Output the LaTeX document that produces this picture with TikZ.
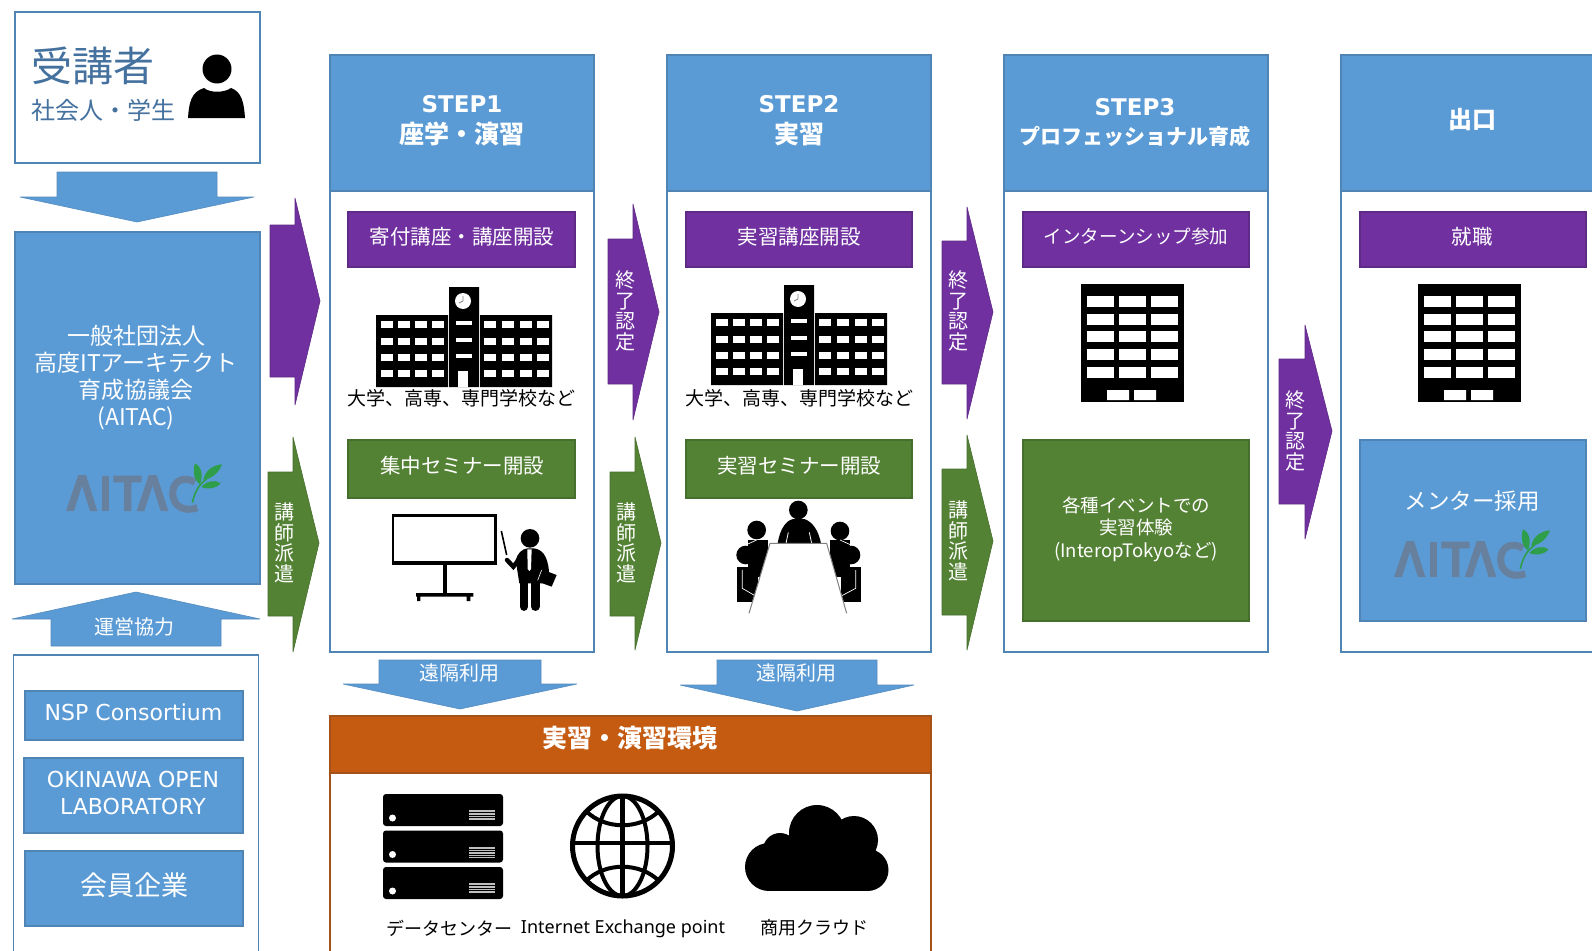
\documentclass[tikz,border=0pt]{standalone}
\usepackage{fontspec}
\setmainfont{Noto Sans CJK JP}
\newfontfamily\dvfont{DejaVu Sans}
\newfontfamily\nsfont{Noto Sans}
\definecolor{cblue}{HTML}{5B9BD5}
\definecolor{cblueedge}{HTML}{4F84B5}
\definecolor{cpurple}{HTML}{7030A0}
\definecolor{cpurpleedge}{HTML}{5E2A86}
\definecolor{cgreen}{HTML}{548235}
\definecolor{cgreenedge}{HTML}{466E2D}
\definecolor{corange}{HTML}{C55A11}
\definecolor{corangeedge}{HTML}{A5511A}
\definecolor{ctitle}{HTML}{44719E}
\definecolor{clogo}{HTML}{66809E}
\definecolor{cleaf}{HTML}{2E9E4A}
\newcommand\fs[2]{\fontsize{#1}{#2}\selectfont}
\tikzset{
  bluebox/.style={draw=cblueedge,fill=cblue,line width=1.3pt,inner sep=0pt},
  whitebox/.style={draw=cblueedge,fill=white,line width=1.3pt,inner sep=0pt},
  purplebox/.style={draw=cpurpleedge,fill=cpurple,line width=1.3pt,inner sep=0pt},
  greenbox/.style={draw=cgreenedge,fill=cgreen,line width=1.3pt,inner sep=0pt},
  orangebox/.style={draw=corangeedge,fill=corange,line width=1.3pt,inner sep=0pt},
  orangeframe/.style={draw=corangeedge,fill=white,line width=1.3pt,inner sep=0pt},
  wt/.style={text=white,inner sep=0pt,align=center},
  bt/.style={text=black,inner sep=0pt,align=center},
  bluearrow/.style={draw=cblueedge!70!cblue,fill=cblue,line width=.6pt,line join=bevel},
  purplearrow/.style={draw=cpurpleedge,fill=cpurple,line width=.6pt,line join=bevel},
  greenarrow/.style={draw=cgreenedge,fill=cgreen,line width=.6pt,line join=bevel},
}
% box node from corner coordinates
\newcommand\bx[6]{%
  \pgfmathsetmacro\bxw{#5-#3}\pgfmathsetmacro\bxh{#6-#4}%
  \pgfmathsetmacro\bxx{(#3+#5)/2}\pgfmathsetmacro\bxy{(#4+#6)/2}%
  \node[#2,minimum width=\bxw pt,minimum height=\bxh pt] (#1) at (\bxx,\bxy) {};}
% right block arrow: style, x0, xhead, yHeadTop, yShaftTop, yShaftBot, yHeadBot, xtip, ytip
\newcommand\rarr[9]{%
  \draw[#1] (#2,#5) -- (#3,#5) -- (#3,#4) -- (#8,#9) -- (#3,#7) -- (#3,#6) -- (#2,#6) -- cycle;}
% vertical block arrows: style, xs1, xs2, xh1, xh2, yshaft-start, yhead, xtip, ytip
\newcommand\varr[9]{%
  \draw[#1] (#2,#6) -- (#3,#6) -- (#3,#7) -- (#5,#7) -- (#8,#9) -- (#4,#7) -- (#2,#7) -- cycle;}
\newcommand\schoolicon[2]{\begin{scope}[shift={(#1,#2)}]
  \fill[black] (376,315) rectangle (448,387) (480,315) rectangle (552,387) (449,287) rectangle (479,387);
  \foreach \yy in {321,338,354,370}{
    \foreach \xx in {381,398,415,432,484,502,520,537}{\fill[white] (\xx,\yy) rectangle ++(11.5,6.5);}}
  \foreach \yy in {321,338,354}{\fill[white] (456,\yy) rectangle ++(16,4);}
  \fill[white] (458,371) rectangle (468,387);
  \fill[white] (463,301) circle (8);
  \draw[gray,line width=.7pt] (463,301) -- (463,296) (463,301) -- (459,303);
\end{scope}}
\newcommand\officeicon[1]{\begin{scope}[shift={(#1,0)}]
  \fill[black] (1081,284) rectangle (1184,402);
  \foreach \yy in {296,313.5,331,349,367}{
    \foreach \xx in {1087,1119,1151}{\fill[white] (\xx,\yy) rectangle ++(26.5,11);}}
  \fill[white] (1107,390) rectangle (1129,400) (1134,390) rectangle (1156,400);
\end{scope}}
\newcommand\logoicon[2]{\begin{scope}[shift={(#1,#2)},scale=1/3]
  \fill[clogo] (18,168) -- (55,60) -- (78,60) -- (112,168) -- (90,168) -- (66,92) -- (42,168) -- cycle;
  \fill[clogo] (125,62) rectangle (148,168);
  \fill[clogo] (160,62) rectangle (245,82) (192,62) rectangle (214,168);
  \fill[clogo] (230,168) -- (266,60) -- (290,60) -- (325,168) -- (302,168) -- (278,92) -- (253,168) -- cycle;
  \draw[clogo,line width=7pt] (405,82) .. controls (375,62) and (338,75) .. (338,115) .. controls (338,155) and (375,172) .. (412,158);
  \draw[cleaf,line width=1.6pt] (397,143) .. controls (405,110) and (415,90) .. (440,72);
  \fill[cleaf] (405,25) .. controls (425,35) and (430,60) .. (420,88) .. controls (400,75) and (398,45) .. (405,25) -- cycle;
  \fill[cleaf] (486,28) .. controls (460,30) and (435,45) .. (430,75) .. controls (460,70) and (478,50) .. (486,28) -- cycle;
  \fill[cleaf] (482,85) .. controls (465,72) and (440,78) .. (424,96) .. controls (445,105) and (470,100) .. (482,85) -- cycle;
\end{scope}}
\begin{document}
\begin{tikzpicture}[x=1pt,y=-1pt]
\clip (0,0) rectangle (1592,950);
\fill[white] (0,0) rectangle (1592,950);

%% ---- left column
\bx{learner}{whitebox}{15}{12}{260}{163}
\node[text=ctitle,inner sep=0pt,font=\fs{41}{44}] (learnerT) at (92.5,66) {受講者};
\node[text=ctitle,inner sep=0pt,font=\fs{24}{28}] (learnerS) at (103,110) {社会人・学生};
\fill[black] (217,69) circle (14.5);
\fill[black] (188,118) .. controls (189,103) and (191,92) .. (204,88) .. controls (210,93) and (224,93) .. (231,88) .. controls (242,92) and (244,103) .. (245,118) -- cycle;
\varr{bluearrow}{57}{217}{20}{254}{172}{197}{137}{222}
\bx{aitac}{bluebox}{15}{232}{260}{584}
\node[wt,font=\fs{23}{27}] (aitacT) at (136,378) {一般社団法人\\高度ITアーキテクト\\育成協議会\\(AITAC)};
\logoicon{60}{455}
\varr{bluearrow}{51}{221}{12}{260}{646}{619}{136}{592}
\node[wt,font=\fs{20}{24}] (opsT) at (134,627) {運営協力};
\bx{members}{whitebox}{13.5}{655}{258.5}{970}
\bx{nsp}{bluebox}{25}{691}{243}{740}
\node[wt,font={\dvfont\fs{22}{25}}] (nspT) at (133.5,712) {NSP Consortium};
\bx{okinawa}{bluebox}{24}{758}{243}{833}
\node[wt,font={\dvfont\fs{22}{27.5}}] (okinawaT) at (133,793) {OKINAWA OPEN\\LABORATORY};
\bx{kaiin}{bluebox}{25}{851}{243}{926}
\node[wt,font=\fs{27}{31}] (kaiinT) at (134,885) {会員企業};

%% ---- columns
\bx{colA}{whitebox}{330}{55}{594}{652}
\bx{colAh}{bluebox}{330}{55}{594}{191}
\bx{colB}{whitebox}{667}{55}{931}{652}
\bx{colBh}{bluebox}{667}{55}{931}{191}
\bx{colC}{whitebox}{1004}{55}{1268}{652}
\bx{colCh}{bluebox}{1004}{55}{1268}{191}
\bx{colD}{whitebox}{1341}{55}{1620}{652}
\bx{colDh}{bluebox}{1341}{55}{1620}{191}

\node[wt,font=\bfseries\fs{25}{31}] (hA) at (462,120.5) {{\dvfont\fs{23}{31}STEP1}\\座学・演習};
\node[wt,font=\bfseries\fs{25}{31}] (hB) at (799,120.5) {{\dvfont\fs{23}{31}STEP2}\\実習};
\node[wt,font=\bfseries\fs{21}{29}] (hC) at (1135,122.5) {{\dvfont\fs{23}{29}STEP3}\\プロフェッショナル育成};
\node[wt,font=\bfseries\fs{24}{29}] (hD) at (1472,120) {出口};

%% ---- left arrows
\rarr{purplearrow}{270}{295}{198}{225}{377}{405}{320}{301}
\rarr{greenarrow}{268}{293}{437}{472}{616}{652}{319}{543}
\node[wt,font=\fs{20}{20.5}] (v1) at (284,543) {講\\師\\派\\遣};

%% ---- purple row
\bx{pA}{purplebox}{348}{212}{575}{267}
\bx{pB}{purplebox}{686}{212}{912}{267}
\bx{pC}{purplebox}{1023}{212}{1249}{267}
\bx{pD}{purplebox}{1360}{212}{1586}{267}
\node[wt,font=\fs{20.5}{24}] (pAT) at (462,237) {寄付講座・講座開設};
\node[wt,font=\fs{20.5}{24}] (pBT) at (799,237) {実習講座開設};
\node[wt,font=\fs{18.5}{24}] (pCT) at (1136,237) {インターンシップ参加};
\node[wt,font=\fs{20.5}{24}] (pDT) at (1472,237) {就職};

%% ---- icons
\schoolicon{0}{0}
\schoolicon{335}{-2}
\officeicon{0}
\officeicon{337}
\node[bt,font=\fs{19}{24}] (uA) at (461.5,398) {大学、高専、専門学校など};
\node[bt,font=\fs{19}{24}] (uB) at (799,398) {大学、高専、専門学校など};

%% ---- green row
\bx{gA}{greenbox}{348}{440}{575}{498}
\bx{gB}{greenbox}{686}{440}{912}{498}
\bx{gC}{greenbox}{1023}{440}{1249}{621}
\bx{gD}{bluebox}{1360}{440}{1586}{621}
\node[wt,font=\fs{20.5}{24}] (gAT) at (462,466) {集中セミナー開設};
\node[wt,font=\fs{20.5}{24}] (gBT) at (799,466) {実習セミナー開設};
\node[wt,font=\fs{18.5}{22.5}] (gCT) at (1136,529) {各種イベントでの\\実習体験\\(InteropTokyoなど)};
\node[wt,font=\fs{22.5}{26}] (gDT) at (1472,501) {メンター採用};
\logoicon{1388}{521}

%% ---- presenter
\begin{scope}[shift={(385,505)},scale=1/3]
  \draw[black,line width=2.4pt,fill=white] (24,32) rectangle (332,172);
  \fill[black] (20,168) rectangle (336,181);
  \fill[black] (174,180) rectangle (185,268);
  \fill[black] (93,264) rectangle (265,275) (96,270) rectangle (106,288) (245,270) rectangle (256,288);
  \fill[black] (435,100) circle (28);
  \draw[black,line width=1.6pt] (349,78) -- (365,150);
  \draw[black,line width=4.5pt,line cap=round] (366,165) -- (385,185) -- (405,160);
  \fill[black] (392,165) .. controls (398,145) and (410,132) .. (428,130) -- (445,130) .. controls (470,132) and (488,150) .. (492,200) -- (472,235) -- (403,235) -- cycle;
  \draw[black,line width=8.5pt,line cap=round] (417,225) -- (417,305) (451,225) -- (451,305);
  \fill[white] (427,133) -- (440,133) -- (438,192) -- (433,198) -- (428,192) -- cycle;
  \fill[black] (462,190) -- (515,210) -- (500,245) -- (448,226) -- cycle;
  \draw[white,line width=.6pt] (470,195) -- (458,226);
\end{scope}

%% ---- meeting
\begin{scope}[shift={(725,495)},scale=1/3]
  \fill[black] (220,45) circle (28);
  \fill[black] (158,145) .. controls (165,100) and (185,75) .. (205,72) -- (238,72) .. controls (262,80) and (280,105) .. (288,145) -- cycle;
  \draw[white,line width=.8pt] (183,145) -- (190,112) (260,145) -- (253,112);
  \fill[black] (95,105) circle (28);
  \fill[black] (345,108) circle (28);
  \fill[black] (70,135) rectangle (130,245);
  \fill[black] (315,135) rectangle (375,245);
  \fill[black] (62,180) circle (28);
  \fill[black] (378,180) circle (28);
  \fill[black] (36,215) rectangle (100,320);
  \fill[black] (348,215) rectangle (408,320);
  \draw[white,line width=.7pt] (52,225) -- (52,280) -- (95,305) (392,225) -- (392,280) -- (345,305) (62,150) -- (95,135) (378,150) -- (345,135);
  \fill[white] (135,145) -- (305,145) -- (365,355) -- (72,355) -- cycle;
  \draw[gray,line width=1pt] (72,355) -- (135,145) -- (305,145) -- (365,355);
\end{scope}

%% ---- gap arrows
\rarr{purplearrow}{608}{633}{204}{239}{384}{420}{659}{312}
\node[wt,font=\fs{20}{20.5}] (v2) at (625,311) {終\\了\\認\\定};
\rarr{greenarrow}{610}{635}{437}{472}{616}{650}{661}{543}
\node[wt,font=\fs{20}{20.5}] (v3) at (626,543) {講\\師\\派\\遣};
\rarr{purplearrow}{942}{967}{207}{241}{384}{419}{993}{312}
\node[wt,font=\fs{20}{20.5}] (v4) at (958,311) {終\\了\\認\\定};
\rarr{greenarrow}{942}{967}{435}{469}{615}{650}{993}{541}
\node[wt,font=\fs{20}{20.5}] (v5) at (958,541) {講\\師\\派\\遣};
\rarr{purplearrow}{1279}{1305}{325}{359}{504}{539}{1332}{431}
\node[wt,font=\fs{20}{20.5}] (v6) at (1295,431) {終\\了\\認\\定};

%% ---- environment
\bx{env}{orangeframe}{330}{716}{931}{990}
\bx{envh}{orangebox}{330}{716}{931}{773}
\node[wt,font=\bfseries\fs{25}{29}] (envT) at (630,738) {実習・演習環境};
\varr{bluearrow}{379}{541}{343}{577}{660}{684}{460}{709}
\node[wt,font=\fs{20}{24}] (r1) at (459,673) {遠隔利用};
\varr{bluearrow}{717}{877}{680}{914}{660}{685}{797}{711}
\node[wt,font=\fs{20}{24}] (r2) at (796,673) {遠隔利用};

%% ---- servers
\foreach \yy in {794,830.5,867}{
  \fill[black,rounded corners=3pt] (383,\yy) rectangle (503,\yy+32);
  \fill[white] (392.5,\yy+24) circle (3.5);
  \fill[white!75!black] (469,\yy+16) rectangle (495,\yy+27);
  \foreach \ll in {18.5,21,23.5,26}{\draw[black,line width=.6pt] (469,\yy+\ll) -- (495,\yy+\ll);}
}
%% ---- globe
\draw[black,line width=5pt] (622.5,846) circle (50);
\draw[black,line width=4pt] (622.5,846) ellipse (25 and 50);
\draw[black,line width=4.5pt] (622.5,796) -- (622.5,896) (572.5,843) -- (672.5,843);
\draw[black,line width=4pt] (586,811) .. controls (605,830) and (640,830) .. (659,811);
\draw[black,line width=4pt] (586,881) .. controls (605,862) and (640,862) .. (659,881);
%% ---- cloud
\fill[black] (769,867) circle (24) (780,850) circle (17) (817,833) circle (28) (854,840) circle (24) (867.5,870) circle (21);
\fill[black] (769,850) rectangle (867,891);
\fill[black] (800,835) rectangle (860,860);
\node[bt,font=\fs{18}{22}] (dcT) at (449,928) {データセンター};
\node[bt,font={\nsfont\fs{18}{22}}] (ixT) at (623,929) {Internet Exchange point};
\node[bt,font=\fs{18}{22}] (clT) at (814,928) {商用クラウド};
\end{tikzpicture}
\end{document}
